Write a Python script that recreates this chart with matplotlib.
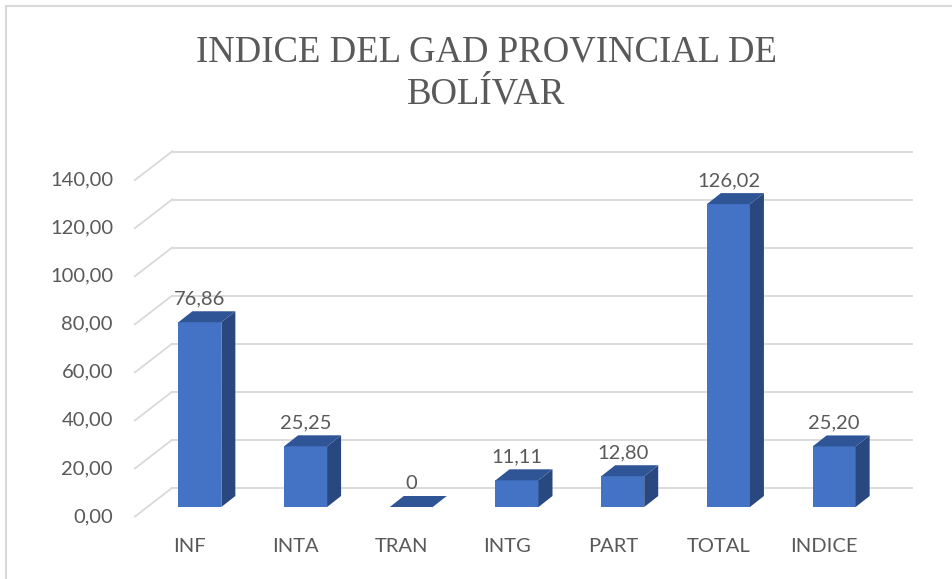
import matplotlib.pyplot as plt
import matplotlib.patches as mpatches
from matplotlib.patches import Polygon, Rectangle

categories = ["INF", "INTA", "TRAN", "INTG", "PART", "TOTAL", "INDICE"]
values = [76.86, 25.25, 0.0, 11.11, 12.80, 126.02, 25.20]
y_ticks = [0, 20, 40, 60, 80, 100, 120, 140]
title_lines = ["INDICE DEL GAD PROVINCIAL DE", "BOLÍVAR"]

W, H, DPI = 953, 579, 100
TEXT = "#595959"
GRID = "#d9d9d9"
FRONT = "#4472c4"
TOP = "#2f5597"
SIDE = "#28487f"

plt.rcParams["font.family"] = ["Lato", "DejaVu Sans"]

fig = plt.figure(figsize=(W / DPI, H / DPI), dpi=DPI)

# back wall of the pseudo 3d plot (pixels: x 172..912, y 488..151.5)
left, right, bottom, top = 172, 912, 488, 151.5
ax = fig.add_axes([left / W, 1 - bottom / H, (right - left) / W, (bottom - top) / H])
ax.set_xlim(-0.5, len(categories) - 0.5)
ax.set_ylim(0, 140)
ax.axis("off")

# pixel -> data unit helpers
PX_X = len(categories) / (right - left)
PX_Y = 140 / (bottom - top)


def px(dx, dy):
    # dy positive means downwards on screen
    return dx * PX_X, -dy * PX_Y


fx, fy = px(-37, 28.5)      # front edge of the floor / side wall
bx, by = px(-25, 19)        # front face of the bars
dx, dy = px(14, -11)        # depth of a bar
bw = 43 * PX_X

# gridlines on back wall plus the diagonal on the left wall
for v in y_ticks:
    ax.plot([-0.5, len(categories) - 0.5], [v, v], color=GRID, lw=1.3, clip_on=False, zorder=1)
    ax.plot([-0.5 + fx, -0.5], [v + fy, v], color=GRID, lw=1.3, clip_on=False, zorder=1)
    ax.text(-0.5 + fx - 22 * PX_X, v + fy, f"{v:.2f}".replace(".", ","),
            ha="right", va="center", fontsize=14.5, color=TEXT, clip_on=False)

for i, (cat, v) in enumerate(zip(categories, values)):
    x0 = i + bx - bw / 2
    y0 = by
    if v > 0:
        ax.add_patch(Rectangle((x0, y0), bw, v, facecolor=FRONT, edgecolor="none",
                               clip_on=False, zorder=3))
        ax.add_patch(Polygon([(x0 + bw, y0), (x0 + bw + dx, y0 + dy),
                              (x0 + bw + dx, y0 + v + dy), (x0 + bw, y0 + v)],
                             closed=True, facecolor=SIDE, edgecolor="none", clip_on=False, zorder=3))
    ax.add_patch(Polygon([(x0, y0 + v), (x0 + bw, y0 + v),
                          (x0 + bw + dx, y0 + v + dy), (x0 + dx, y0 + v + dy)],
                         closed=True, facecolor=TOP, edgecolor="none", clip_on=False, zorder=3))

    label = "0" if v == 0 else f"{v:.2f}".replace(".", ",")
    ax.text(i + bx, y0 + v + dy + 7 * PX_Y, label, ha="center", va="baseline",
            fontsize=14.5, color=TEXT, clip_on=False, zorder=4)

    cx, cy = px(-35, 59)
    ax.text(i + cx, cy, cat, ha="center", va="center", fontsize=14.5, color=TEXT, clip_on=False)

# title
tx = 486 / W
for line, base in zip(title_lines, [61, 103]):
    fig.text(tx, 1 - base / H, line, ha="center", va="baseline",
             fontsize=26.5, color=TEXT, family="Liberation Serif")

# chart border (cropped at right and bottom)
fig.patches.append(mpatches.Rectangle((6 / W, -0.1), 1.2, 1 - 6 / H + 0.1, transform=fig.transFigure,
                                      fill=False, edgecolor=GRID, lw=1.5))

fig.savefig("out.png", dpi=DPI)
